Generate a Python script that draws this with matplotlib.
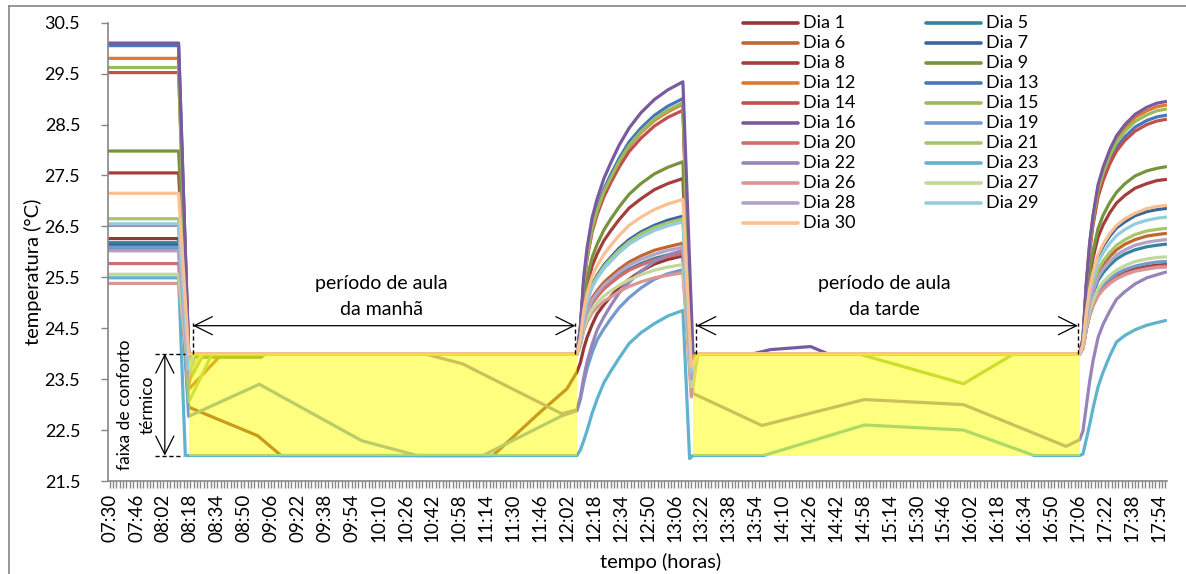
import matplotlib.pyplot as plt
import numpy as np
from matplotlib.lines import Line2D

plt.rcParams['font.family'] = ['Lato', 'DejaVu Sans']

# tempo em minutos a partir das 07:30
dias = ["Dia 1", "Dia 5", "Dia 6", "Dia 7", "Dia 8", "Dia 9", "Dia 12", "Dia 13",
        "Dia 14", "Dia 15", "Dia 16", "Dia 19", "Dia 20", "Dia 21", "Dia 22",
        "Dia 23", "Dia 26", "Dia 27", "Dia 28", "Dia 29", "Dia 30"]
cores = ["#953735", "#31859C", "#C0662E", "#3A64A0", "#A43E3C", "#77933C",
         "#E0782E", "#4677BC", "#C0504D", "#9BBB59", "#7A5A9E", "#7399CE",
         "#CF6E6B", "#A6C66C", "#9784B8", "#5FB3CC", "#D99694", "#C3D69B",
         "#B3A2C7", "#93CDDD", "#FAC090"]

# temperatura antes da abertura (07:30 - 08:11)
inicio = [26.26, 26.18, 26.06, 26.13, 27.55, 27.98, 29.80, 30.05, 29.52, 29.62,
          30.10, 26.09, 25.77, 26.65, 26.52, 25.49, 25.38, 25.56, 26.02, 26.55, 27.15]
# valor logo apos ligar o ar (08:17)
queda_manha = [24.0, 23.8, 24.0, 24.0, 24.0, 24.0, 24.0, 24.0, 23.9, 24.0,
               24.0, 24.0, 23.35, 24.0, 24.0, 24.0, 23.55, 24.0, 23.57, 23.7, 24.0]

# dias que saem da faixa de 24 durante a manha
manha_especial = {
    "Dia 1": ([47, 88, 102, 228, 256, 272], [22.95, 22.39, 22.0, 22.0, 22.85, 23.31]),
    "Dia 6": ([47, 67], [23.3, 24.0]),
    "Dia 9": ([47, 90, 93], [23.93, 23.93, 24.0]),
    "Dia 15": ([47, 56], [23.45, 24.0]),
    "Dia 19": ([47, 89, 150, 183, 222, 269], [22.77, 23.4, 22.29, 22.0, 22.0, 22.78]),
    "Dia 21": ([47, 61], [23.05, 24.0]),
    "Dia 22": ([47, 51, 187, 210, 269], [23.6, 24.0, 24.0, 23.8, 22.82]),
    "Dia 23": ([45], [22.0]),
    "Dia 27": ([47, 55], [23.6, 24.0]),
}

# subida no intervalo do almoco (12:08 - 13:11)
t_almoco = [278, 280, 282, 284, 287, 290, 294, 298, 303, 309, 316, 324, 332, 341]
subida_almoco = [
    [23.64, 23.82, 24.10, 24.32, 24.57, 24.78, 24.96, 25.12, 25.30, 25.46, 25.62, 25.76, 25.85, 25.92],
    [24.00, 24.20, 24.56, 24.78, 25.00, 25.14, 25.29, 25.40, 25.53, 25.66, 25.77, 25.87, 25.94, 26.00],
    [24.00, 24.22, 24.61, 24.85, 25.09, 25.24, 25.40, 25.52, 25.66, 25.80, 25.92, 26.03, 26.10, 26.17],
    [24.00, 24.27, 24.76, 25.05, 25.35, 25.54, 25.74, 25.89, 26.07, 26.24, 26.39, 26.52, 26.62, 26.70],
    [24.00, 24.34, 24.96, 25.34, 25.72, 25.96, 26.22, 26.41, 26.63, 26.86, 27.04, 27.22, 27.34, 27.44],
    [24.00, 24.38, 25.06, 25.47, 25.89, 26.15, 26.43, 26.64, 26.88, 27.13, 27.34, 27.53, 27.66, 27.77],
    [24.00, 24.49, 25.37, 25.91, 26.45, 26.79, 27.16, 27.43, 27.75, 28.07, 28.34, 28.58, 28.75, 28.90],
    [24.00, 24.50, 25.40, 25.95, 26.51, 26.86, 27.23, 27.51, 27.83, 28.16, 28.43, 28.68, 28.86, 29.01],
    [24.00, 24.48, 25.34, 25.86, 26.39, 26.73, 27.08, 27.35, 27.66, 27.97, 28.23, 28.47, 28.64, 28.78],
    [24.00, 24.49, 25.38, 25.92, 26.47, 26.81, 27.18, 27.45, 27.77, 28.09, 28.36, 28.61, 28.78, 28.93],
    [24.00, 24.53, 25.50, 26.08, 26.67, 27.04, 27.44, 27.74, 28.09, 28.43, 28.73, 28.99, 29.18, 29.34],
    [22.88, 23.10, 23.43, 23.71, 24.02, 24.27, 24.49, 24.68, 24.90, 25.10, 25.29, 25.46, 25.57, 25.65],
    [24.00, 24.20, 24.55, 24.77, 24.99, 25.12, 25.27, 25.38, 25.51, 25.64, 25.74, 25.84, 25.91, 25.97],
    [24.00, 24.27, 24.74, 25.03, 25.33, 25.51, 25.71, 25.86, 26.03, 26.20, 26.35, 26.48, 26.57, 26.65],
    [22.90, 23.15, 23.53, 23.84, 24.18, 24.47, 24.72, 24.94, 25.19, 25.40, 25.62, 25.81, 25.94, 26.03],
    [22.00, 22.11, 22.29, 22.49, 22.83, 23.11, 23.43, 23.65, 23.91, 24.20, 24.41, 24.59, 24.74, 24.85],
    [24.00, 24.16, 24.45, 24.62, 24.80, 24.91, 25.03, 25.11, 25.22, 25.32, 25.41, 25.49, 25.54, 25.59],
    [24.00, 24.18, 24.49, 24.68, 24.88, 25.00, 25.13, 25.23, 25.34, 25.45, 25.55, 25.64, 25.70, 25.75],
    [24.00, 24.21, 24.59, 24.82, 25.05, 25.19, 25.35, 25.46, 25.60, 25.74, 25.85, 25.95, 26.03, 26.09],
    [24.00, 24.26, 24.73, 25.01, 25.30, 25.48, 25.67, 25.81, 25.98, 26.15, 26.29, 26.42, 26.51, 26.59],
    [24.00, 24.30, 24.85, 25.18, 25.52, 25.73, 25.95, 26.12, 26.32, 26.52, 26.68, 26.83, 26.94, 27.03],
]

# valor logo apos religar o ar (13:16)
queda_tarde = [23.6, 23.55, 23.7, 23.8, 23.65, 23.9, 23.7, 24.0, 23.75, 24.0,
               24.0, 23.45, 23.45, 23.6, 24.0, 24.0, 23.15, 23.35, 23.5, 23.65, 23.75]

tarde_especial = {
    "Dia 15": ([346, 350, 445, 508, 538], [23.7, 24.0, 24.0, 23.41, 24.0]),
    "Dia 16": ([347, 383, 393, 417, 427], [24.0, 24.0, 24.08, 24.14, 24.0]),
    "Dia 22": ([347, 388, 449, 508, 569], [23.22, 22.59, 23.10, 23.0, 22.18]),
    "Dia 23": ([345, 347, 389, 449, 508, 550], [21.94, 22.0, 22.0, 22.6, 22.5, 22.0]),
}

# subida apos desligar o ar (17:07 - 17:58)
t_fim = [577, 579, 581, 583, 585, 588, 591, 595, 599, 604, 610, 617, 623, 628]
subida_fim = [
    [24.00, 24.11, 24.49, 24.77, 24.96, 25.17, 25.30, 25.42, 25.51, 25.59, 25.66, 25.71, 25.74, 25.75],
    [24.00, 24.13, 24.60, 24.95, 25.18, 25.44, 25.59, 25.74, 25.86, 25.96, 26.04, 26.10, 26.13, 26.15],
    [24.00, 24.14, 24.66, 25.04, 25.30, 25.58, 25.75, 25.91, 26.04, 26.15, 26.24, 26.31, 26.34, 26.36],
    [24.00, 24.17, 24.80, 25.25, 25.57, 25.91, 26.11, 26.31, 26.47, 26.59, 26.71, 26.79, 26.83, 26.85],
    [24.00, 24.21, 24.96, 25.50, 25.88, 26.29, 26.53, 26.77, 26.96, 27.11, 27.25, 27.34, 27.40, 27.42],
    [24.00, 24.22, 25.03, 25.61, 26.02, 26.46, 26.72, 26.97, 27.17, 27.34, 27.49, 27.59, 27.64, 27.67],
    [24.00, 24.29, 25.37, 26.15, 26.68, 27.27, 27.61, 27.95, 28.22, 28.44, 28.64, 28.77, 28.85, 28.88],
    [24.00, 24.28, 25.31, 26.06, 26.57, 27.14, 27.46, 27.79, 28.05, 28.26, 28.45, 28.58, 28.65, 28.68],
    [24.00, 24.28, 25.29, 26.02, 26.53, 27.08, 27.40, 27.73, 27.98, 28.19, 28.37, 28.50, 28.57, 28.60],
    [24.00, 24.29, 25.34, 26.11, 26.64, 27.22, 27.55, 27.89, 28.15, 28.37, 28.56, 28.69, 28.77, 28.80],
    [24.00, 24.30, 25.39, 26.18, 26.72, 27.32, 27.66, 28.01, 28.28, 28.50, 28.70, 28.84, 28.92, 28.95],
    [24.00, 24.11, 24.51, 24.80, 25.00, 25.21, 25.34, 25.47, 25.57, 25.65, 25.72, 25.77, 25.80, 25.81],
    [24.00, 24.10, 24.48, 24.76, 24.95, 25.15, 25.27, 25.39, 25.49, 25.57, 25.63, 25.68, 25.71, 25.72],
    [24.00, 24.15, 24.69, 25.08, 25.35, 25.65, 25.82, 25.99, 26.13, 26.24, 26.34, 26.41, 26.44, 26.46],
    [22.31, 22.48, 22.97, 23.46, 23.86, 24.32, 24.58, 24.84, 25.07, 25.22, 25.37, 25.49, 25.55, 25.60],
    [22.00, 22.03, 22.32, 22.61, 22.93, 23.35, 23.64, 23.96, 24.23, 24.36, 24.47, 24.56, 24.61, 24.65],
    [24.00, 24.10, 24.48, 24.75, 24.94, 25.14, 25.26, 25.38, 25.47, 25.55, 25.62, 25.66, 25.69, 25.70],
    [24.00, 24.11, 24.53, 24.84, 25.05, 25.27, 25.41, 25.54, 25.64, 25.73, 25.81, 25.86, 25.89, 25.90],
    [24.00, 24.13, 24.63, 24.99, 25.23, 25.50, 25.66, 25.81, 25.94, 26.04, 26.13, 26.19, 26.22, 26.24],
    [24.00, 24.16, 24.75, 25.18, 25.47, 25.80, 25.98, 26.17, 26.32, 26.44, 26.55, 26.62, 26.66, 26.68],
    [24.00, 24.17, 24.81, 25.28, 25.60, 25.95, 26.15, 26.36, 26.52, 26.65, 26.76, 26.85, 26.89, 26.91],
]

# faixa de conforto e periodos de aula
conforto = (22.0, 24.0)
aula_manha = (47, 278)
aula_tarde = (347, 577)

rotulos_x = ["07:30", "07:46", "08:02", "08:18", "08:34", "08:50", "09:06", "09:22",
             "09:38", "09:54", "10:10", "10:26", "10:42", "10:58", "11:14", "11:30",
             "11:46", "12:02", "12:18", "12:34", "12:50", "13:06", "13:22", "13:38",
             "13:54", "14:10", "14:26", "14:42", "14:58", "15:14", "15:30", "15:46",
             "16:02", "16:18", "16:34", "16:50", "17:06", "17:22", "17:38", "17:54"]

W, H = 1186, 574
fig = plt.figure(figsize=(W / 100, H / 100), dpi=100)
ax = fig.add_axes([108 / W, 1 - 481 / H, (1167 - 108) / W, (481 - 22.7) / H])

cinza = '#868686'
linhas = []
for i, dia in enumerate(dias):
    t = [0, 41]
    v = [inicio[i], inicio[i]]
    if dia in manha_especial:
        t += manha_especial[dia][0]
        v += manha_especial[dia][1]
    else:
        t += [47, 50]
        v += [queda_manha[i], 24.0]
    t += t_almoco
    v += subida_almoco[i]
    if dia in tarde_especial:
        t += tarde_especial[dia][0]
        v += tarde_especial[dia][1]
    else:
        t += [346, 350]
        v += [queda_tarde[i], 24.0]
    t += t_fim
    v += subida_fim[i]
    ln, = ax.plot(t, v, color=cores[i], lw=2.3, solid_joinstyle='round', zorder=2)
    linhas.append(ln)

# faixa amarela semitransparente por cima das curvas
for a, b in (aula_manha, aula_tarde):
    ax.fill_between([a, b], conforto[0], conforto[1], color='#FFFF00', alpha=0.5,
                    lw=0, zorder=3)

# setas dos periodos de aula
seta = dict(arrowstyle='<->,head_length=1.3,head_width=0.65', color='black', lw=0.9,
            shrinkA=0, shrinkB=0, mutation_scale=10)
y_seta = 24.55
for a, b, txt in ((49.5, 277, "período de aula\nda manhã"),
                  (349, 576, "período de aula\nda tarde")):
    ax.annotate('', xy=(a, y_seta), xytext=(b, y_seta), arrowprops=seta, zorder=5)
    for xx in (a, b):
        ax.plot([xx, xx], [24.0, 24.6], color='black', lw=1, ls=(0, (3, 2)), zorder=5)
    ax.text((a + b) / 2 - 1.5, 25.12, txt, ha='center', va='center', fontsize=14,
            linespacing=1.65, zorder=5)

# indicacao da faixa de conforto
ax.plot([26.8, 44.7], [24.0, 24.0], color='black', lw=1, ls=(0, (3, 2)), zorder=5)
ax.plot([26.8, 43.5], [22.0, 22.0], color='black', lw=1, ls=(0, (3, 2)), zorder=5)
ax.annotate('', xy=(32.8, 24.0), xytext=(32.8, 22.0), arrowprops=seta, zorder=5)
ax.text(9.0, 23.0, "faixa de conforto", rotation=90, ha='center', va='center', fontsize=12.5)
ax.text(22.8, 23.0, "térmico", rotation=90, ha='center', va='center', fontsize=12.5)

ax.set_xlim(-1, 629)
ax.set_ylim(21.5, 30.5)
ax.set_xticks(np.arange(0, 625, 16))
ax.set_xticklabels(rotulos_x, rotation=90, fontsize=13.5)
ax.set_xticks(np.arange(0, 629, 2), minor=True)
ax.set_yticks(np.arange(21.5, 30.6, 1.0))
ax.set_yticklabels([f"{y:.1f}" for y in np.arange(21.5, 30.6, 1.0)], fontsize=13)
ax.tick_params(axis='x', which='both', length=5, width=1, color=cinza, pad=4)
ax.tick_params(axis='y', length=5, width=1, color=cinza, pad=15)
for s in ('top', 'right'):
    ax.spines[s].set_visible(False)
for s in ('left', 'bottom'):
    ax.spines[s].set_color(cinza)
    ax.spines[s].set_linewidth(1.2)

ax.set_xlabel("tempo (horas)", fontsize=14.5, labelpad=8, x=0.522)
ax.set_ylabel("temperatura (°C)", fontsize=14.5, labelpad=2, y=0.456)

# legenda em duas colunas, ordem por linha (como no Excel)
ordem = list(range(0, len(dias), 2)) + list(range(1, len(dias), 2))
for n, k in enumerate(ordem):
    col, lin = divmod(n, 11)
    x0 = 743 + col * 183
    y0 = 1 - (23 + lin * 20) / H
    fig.add_artist(Line2D([x0 / W, (x0 + 55) / W], [y0, y0], transform=fig.transFigure,
                          color=cores[k], lw=2.6, solid_capstyle='round'))
    fig.text((x0 + 60) / W, y0, dias[k], ha='left', va='center', fontsize=13)

# moldura do grafico
fig.add_artist(Line2D([9 / W, 9 / W], [0, 1 - 6 / H], transform=fig.transFigure,
                      color=cinza, lw=1.2))
fig.add_artist(Line2D([9 / W, 1], [1 - 6 / H, 1 - 6 / H], transform=fig.transFigure,
                      color=cinza, lw=1.2))

fig.savefig("out.png", dpi=100)
